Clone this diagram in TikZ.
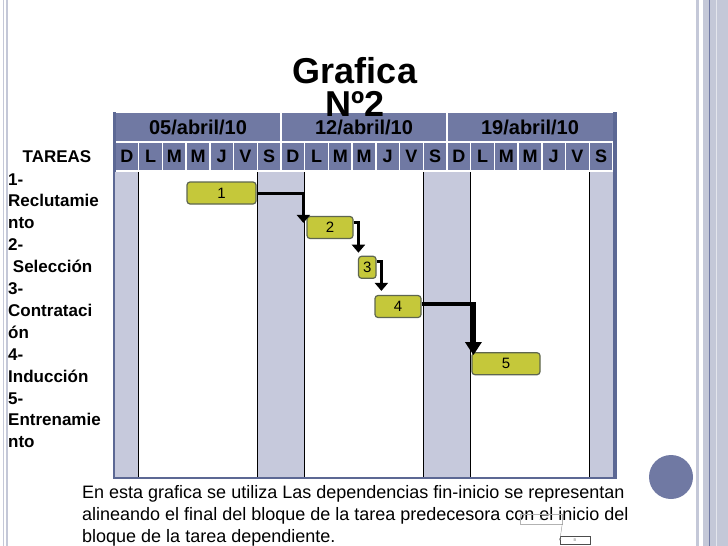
\documentclass[tikz,border=0pt]{standalone}
\usepackage{fontspec}
\setmainfont{Liberation Sans}
\usepackage{tikz}
\usetikzlibrary{positioning, arrows.meta}
\definecolor{slateblue}{HTML}{7079A3}
\definecolor{slatedark}{HTML}{5C6894}
\definecolor{weekend}{HTML}{C6C9DC}
\definecolor{framegray}{HTML}{C4C8D8}
\definecolor{barfill}{HTML}{C5C83A}
\definecolor{bardraw}{HTML}{5E6650}

\begin{document}
\begin{tikzpicture}[x=1pt, y=-1pt,
    taskbar/.style={fill=barfill, draw=bardraw, line width=1.2pt, rounded corners=3pt,
      minimum height=22pt, inner sep=0pt, font=\fontsize{15}{15}\selectfont},
    dep/.style={line width=3pt, -{Triangle[length=8pt, width=13pt]}},
    dayhead/.style={font=\bfseries\fontsize{18}{18}\selectfont, inner sep=0pt},
    datehead/.style={font=\bfseries\fontsize{20}{20}\selectfont, inner sep=0pt},
    tasktext/.style={font=\bfseries\fontsize{17}{17}\selectfont, inner sep=0pt, anchor=base west}]
    \useasboundingbox (0,0) rectangle (728,546);
    \def\cw{23.714}

    % slide frame
    \draw[framegray, line width=1.5pt] (3.5,0) -- (3.5,546);
    \draw[framegray, line width=1.5pt] (7,0) -- (7,546);
    \fill[framegray] (696,0) rectangle (699,546);
    \fill[framegray] (703,0) rectangle (728,546);
    \draw[slateblue, line width=0.8pt] (709.3,0) -- (709.3,546);
    \draw[white!55!framegray, line width=0.8pt] (716.5,0) -- (716.5,546);
    \fill[slateblue] (671,477) circle[radius=22pt];

    \node[font=\bfseries\fontsize{36}{36}\selectfont, inner sep=0pt] (title) at (355,71) {Grafica};

    % table
    \fill[slatedark] (113,112) rectangle (616.5,479);
    \fill[white] (115.5,112) rectangle (613,476.5);
    \fill[slateblue] (115.5,112.5) rectangle (613,141);
    \draw[white, line width=1.5pt] (281,112.5) -- (281,141);
    \draw[white, line width=1.5pt] (447,112.5) -- (447,141);
    \foreach \i in {0,...,20}
      \fill[slateblue] ({115+\cw*\i+0.75},143) rectangle ({115+\cw*(\i+1)-0.75},170);
    \foreach \a/\b in {0/1, 6/8, 13/15, 20/21}
      \fill[weekend] ({115+\cw*\a},172) rectangle ({115+\cw*\b},476.5);
    \foreach \k in {1,6,8,13,15,20}
      \draw[line width=0.8pt] ({115+\cw*\k},172) -- ({115+\cw*\k},476.5);

    \node[datehead] (week1) at (198,127) {05/abril/10};
    \node[datehead] (week2) at (364,127) {12/abril/10};
    \node[datehead] (week3) at (530,127) {19/abril/10};
    \foreach \d [count=\i from 0] in {D,L,M,M,J,V,S,D,L,M,M,J,V,S,D,L,M,M,J,V,S}
      \node[dayhead] (day\i) at ({115+\cw*(\i+0.5)},156.5) {\d};

    % task list
    \node[font=\bfseries\fontsize{17}{17}\selectfont, inner sep=0pt] (tareas) at (57,157) {TAREAS};
    \foreach \t [count=\i] in {1-, Reclutamie, nto, 2-, \ Selección, 3-, Contrataci, ón,
        4-, Inducción, 5-, Entrenamie, nto}
      \node[tasktext] (task\i) at (8,{163.1+21.9*\i}) {\t};

    % bars
    \node[taskbar, minimum width=69pt] (t1) at (221.5,193) {1};
    \node[taskbar, minimum width=46pt] (t2) at (330,227.5) {2};
    \node[taskbar, minimum width=17.5pt] (t3) at (367.3,267.3) {3};
    \node[taskbar, minimum width=46pt] (t4) at (398,306.5) {4};
    \node[taskbar, minimum width=68pt] (t5) at (506,363.7) {5};

    % fin-inicio
    \draw[dep] (t1.east) -| ([xshift=-3pt, yshift=-7pt]t2.north west);
    \draw[dep] ([yshift=5.5pt]t2.east) -| ([xshift=0.5pt, yshift=3pt]t3.north west);
    \draw[dep] ([yshift=5.5pt]t3.east) -| ([xshift=7pt, yshift=4pt]t4.north west);
    \draw[dep, line width=4.5pt, -{Triangle[length=13pt, width=16pt]}]
      ([yshift=2.5pt]t4.east) -| ([xshift=2pt, yshift=-3pt]t5.north west);

    \node[font=\fontsize{18}{22}\selectfont, align=left, inner sep=0pt, anchor=west] (note) at (82,516)
      {En esta grafica se utiliza Las dependencias fin-inicio se representan\\
       alineando el final del bloque de la tarea predecesora con el inicio del\\
       bloque de la tarea dependiente.};

    \node[draw=gray!60, line width=0.4pt, minimum width=42pt, minimum height=10pt, inner sep=0pt,
      font=\fontsize{4}{4}\selectfont, text=gray] (boxa) at (541,519) {A};
    \node[draw=black!70, line width=0.4pt, minimum width=30pt, minimum height=8pt, inner sep=0pt,
      font=\fontsize{4}{4}\selectfont, text=gray] (boxb) at (575,540.5) {B};
    \draw[gray, line width=0.3pt, -{Stealth[length=2pt, width=2pt]}] (boxa.south east) -- (boxb.west);

    \node[font=\bfseries\fontsize{36}{36}\selectfont, inner sep=0pt] (num) at (355,104) {Nº2};
\end{tikzpicture}
\end{document}
